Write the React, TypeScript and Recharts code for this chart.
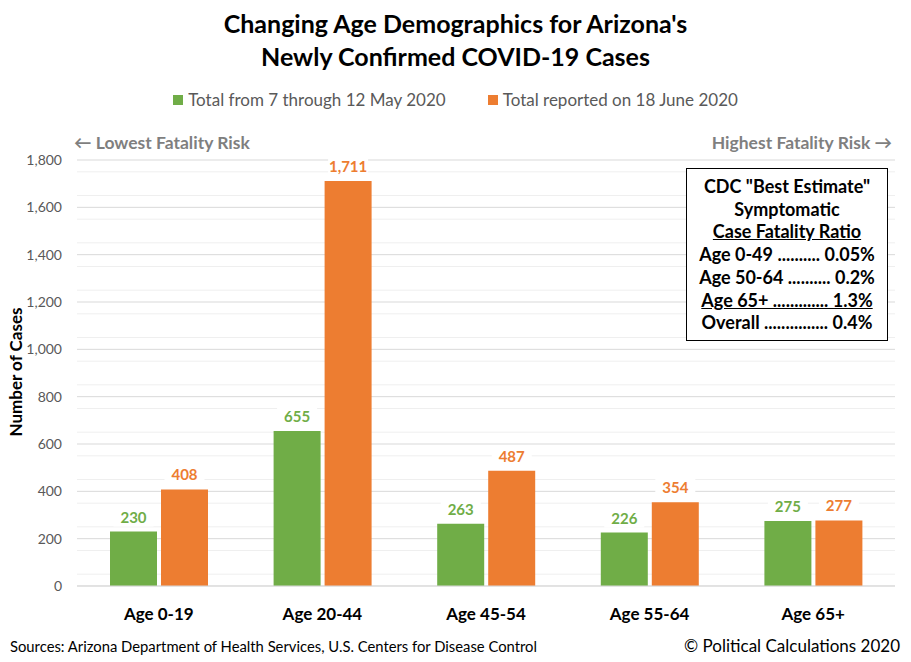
import React from 'react';
import {
  BarChart, Bar, XAxis, YAxis, CartesianGrid, LabelList,
} from 'recharts';

const AGE_GROUPS = ['Age 0-19', 'Age 20-44', 'Age 45-54', 'Age 55-64', 'Age 65+'];
const MAY_TOTALS = [230, 655, 263, 226, 275];
const JUNE_TOTALS = [408, 1711, 487, 354, 277];
const Y_TICKS = [0, 200, 400, 600, 800, 1000, 1200, 1400, 1600, 1800];
const MINOR_TICKS = Y_TICKS.slice(0, -1).flatMap(t => [t + 50, t + 100, t + 150]);

const GREEN = '#70ad47';
const ORANGE = '#ed7d31';
const FONT = 'Lato, "Open Sans", sans-serif';

const CFR_LINES = [
  { text: 'Age 0-49 .......... 0.05%', underline: false },
  { text: 'Age 50-64 .......... 0.2%', underline: false },
  { text: 'Age 65+ ............. 1.3%', underline: true },
  { text: 'Overall ............... 0.4%', underline: false },
];

const chartData = AGE_GROUPS.map((age, i) => ({
  age,
  may: MAY_TOTALS[i],
  june: JUNE_TOTALS[i],
}));

const fmt = (v: number) => v.toLocaleString('en-US');

function makeLabel(color: string) {
  return (props: any) => {
    const { x, y, width, value } = props;
    const cx = x + width / 2;
    const cy = y - 15;
    return (
      <g>
        <rect x={cx - 20} y={cy - 10} width={40} height={20} fill="#fff" />
        <text x={cx} y={cy} textAnchor="middle" dominantBaseline="central"
          fill={color} fontSize={15} fontWeight={700} fontFamily={FONT}>
          {fmt(value)}
        </text>
      </g>
    );
  };
}

const LEGEND_ITEMS = [
  { label: 'Total from 7 through 12 May 2020', color: GREEN },
  { label: 'Total reported on 18 June 2020', color: ORANGE },
];

const abs = (s: React.CSSProperties): React.CSSProperties => ({ position: 'absolute', fontFamily: FONT, ...s });

export default function App() {
  return (
    <div style={{ position: 'absolute', left: 0, top: 0, width: 911, height: 662, background: '#fff', overflow: 'hidden' }}>
      <div style={abs({ left: 0, top: 7, width: 911, textAlign: 'center', fontSize: 25, fontWeight: 700, lineHeight: '33px', color: '#000' })}>
        Changing Age Demographics for Arizona's<br />Newly Confirmed COVID-19 Cases
      </div>

      <div style={abs({ left: 0, top: 89, width: 911, display: 'flex', justifyContent: 'center', gap: 42, fontSize: 17, color: '#595959' })}>
        {LEGEND_ITEMS.map(it => (
          <span key={it.label} style={{ display: 'flex', alignItems: 'center' }}>
            <span style={{ width: 10, height: 10, background: it.color, marginRight: 5 }} />
            {it.label}
          </span>
        ))}
      </div>

      <BarChart
        width={911}
        height={662}
        data={chartData}
        margin={{ top: 160, right: 16, bottom: 46, left: 17 }}
        barGap={4}
        barSize={47}
      >
        <CartesianGrid vertical={false} stroke="#efefef" horizontalValues={MINOR_TICKS} />
        <CartesianGrid vertical={false} stroke="#d9d9d9" />
        <XAxis
          dataKey="age"
          axisLine={{ stroke: '#d9d9d9' }}
          tickLine={false}
          height={30}
          tickMargin={16}
          tick={{ fill: '#000', fontSize: 17, fontWeight: 700, fontFamily: FONT }}
        />
        <YAxis
          width={60}
          domain={[0, 1800]}
          ticks={Y_TICKS}
          axisLine={false}
          tickLine={false}
          tickSize={0}
          tickMargin={15}
          tickFormatter={fmt}
          tick={{ fill: '#595959', fontSize: 14, fontFamily: FONT }}
        />
        <Bar dataKey="may" fill={GREEN} isAnimationActive={false}>
          <LabelList dataKey="may" content={makeLabel(GREEN)} />
        </Bar>
        <Bar dataKey="june" fill={ORANGE} isAnimationActive={false}>
          <LabelList dataKey="june" content={makeLabel(ORANGE)} />
        </Bar>
      </BarChart>

      <div style={abs({ left: 74, top: 132, fontSize: 17.5, fontWeight: 700, color: '#7f7f7f' })}>← Lowest Fatality Risk</div>
      <div style={abs({ right: 19, top: 132, fontSize: 17.5, fontWeight: 700, color: '#7f7f7f' })}>Highest Fatality Risk →</div>

      <div style={abs({ left: 15, top: 372, transform: 'translate(-50%, -50%) rotate(-90deg)', whiteSpace: 'nowrap', fontSize: 17, fontWeight: 700, color: '#000' })}>
        Number of Cases
      </div>

      <div style={abs({ left: 686, top: 168, width: 202, height: 173, border: '1px solid #000', background: '#fff', textAlign: 'center', fontSize: 18, fontWeight: 700, color: '#000', lineHeight: '22.7px', paddingTop: 6, boxSizing: 'border-box', whiteSpace: 'nowrap' })}>
        <div>CDC "Best Estimate"</div>
        <div>Symptomatic</div>
        <div style={{ textDecoration: 'underline' }}>Case Fatality Ratio</div>
        {CFR_LINES.map(l => (
          <div key={l.text} style={{ textDecoration: l.underline ? 'underline' : 'none' }}>{l.text}</div>
        ))}
      </div>

      <div style={abs({ left: 10, top: 637, fontSize: 14.8, color: '#000' })}>
        Sources: Arizona Department of Health Services, U.S. Centers for Disease Control
      </div>
      <div style={abs({ right: 11, top: 635, fontSize: 17, color: '#000' })}>© Political Calculations 2020</div>
    </div>
  );
}
